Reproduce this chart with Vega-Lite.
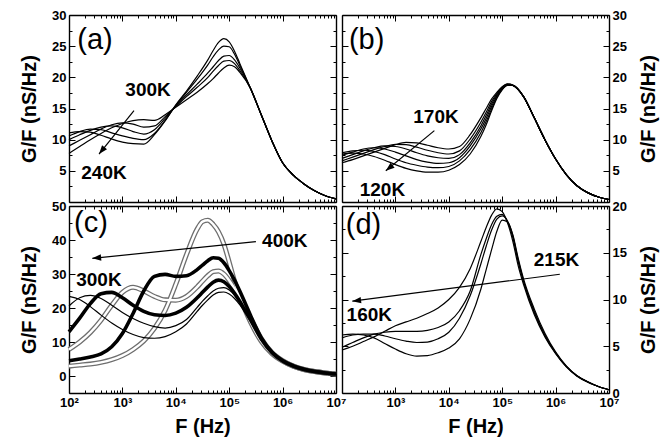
{
"$schema":"https://vega.github.io/schema/vega-lite/v6.json",
"autosize":{"type":"pad"},
"padding":{"left":19,"top":9,"right":5,"bottom":5},
"background":"white",
"config":{"view":{"stroke":null},"axis":{"domainColor":"black","domainWidth":1.4,"tickColor":"black","tickWidth":1,"labelFont":"Liberation Sans","labelFontWeight":"bold","labelFontSize":13,"labelColor":"black","titleFont":"Liberation Sans","titleFontWeight":"bold","titleFontSize":20,"titleColor":"black","grid":false,"labelFlush":false,"labelOverlap":false,"labelPadding":9,"titlePadding":12},"text":{"font":"Liberation Sans","color":"black"}},
"datasets":{
"lab":[
{"p":"a","k":"id","s":"(a)","f":143,"g":24.56},{"p":"a","k":"t","s":"300K","f":3020,"g":17.06},{"p":"a","k":"t","s":"240K","f":452,"g":3.7},
{"p":"b","k":"id","s":"(b)","f":135,"g":24.56},{"p":"b","k":"t","s":"170K","f":5754,"g":12.7},{"p":"b","k":"t","s":"120K","f":571,"g":1.0},
{"p":"c","k":"id","s":"(c)","f":124,"g":42.3},{"p":"c","k":"t","s":"400K","f":1100000,"g":37.85},{"p":"c","k":"t","s":"300K","f":363,"g":26.4},
{"p":"d","k":"id","s":"(d)","f":117.5,"g":17.0},{"p":"d","k":"t","s":"215K","f":1040000,"g":13.6},{"p":"d","k":"t","s":"160K","f":324,"g":7.67}],
"arr":[
{"p":"a","f":1648,"g":14.65,"f2":365,"g2":7.7},
{"p":"b","f":5370,"g":11.45,"f2":661,"g2":5.0},
{"p":"c","f":316200,"g":39.5,"f2":273.5,"g2":34.6},
{"p":"d","f":1200000,"g":12.7,"f2":156,"g2":9.82}],
"a":[
{"t":"240K","f":100,"g":11.1},{"t":"240K","f":158.5,"g":11.3},{"t":"240K","f":251.2,"g":11.2},{"t":"240K","f":398.1,"g":10.7},{"t":"240K","f":631,"g":10.1},{"t":"240K","f":1000,"g":9.6},{"t":"240K","f":1585,"g":9.35},{"t":"240K","f":2512,"g":9.3},{"t":"240K","f":3981,"g":10.8},{"t":"240K","f":6310,"g":13.0},{"t":"240K","f":10000,"g":15.6},{"t":"240K","f":15850,"g":17.8},{"t":"240K","f":25120,"g":20.2},{"t":"240K","f":39810,"g":22.8},{"t":"240K","f":50120,"g":24.3},{"t":"240K","f":63100,"g":25.6},{"t":"240K","f":79430,"g":26.2},{"t":"240K","f":100000,"g":25.7},{"t":"240K","f":125900,"g":24.2},{"t":"240K","f":158500,"g":22.2},{"t":"240K","f":251200,"g":18.2},{"t":"240K","f":398100,"g":14.0},{"t":"240K","f":631000,"g":9.8},{"t":"240K","f":1000000,"g":6.3},{"t":"240K","f":1585000,"g":4.3},{"t":"240K","f":2512000,"g":2.9},{"t":"240K","f":3981000,"g":1.8},{"t":"240K","f":6310000,"g":1.0},{"t":"240K","f":10000000,"g":0.5},
{"t":"255K","f":100,"g":10.6},{"t":"255K","f":158.5,"g":11.3},{"t":"255K","f":251.2,"g":11.7},{"t":"255K","f":398.1,"g":11.6},{"t":"255K","f":631,"g":11.1},{"t":"255K","f":1000,"g":10.6},{"t":"255K","f":1585,"g":10.2},{"t":"255K","f":2512,"g":10.0},{"t":"255K","f":3981,"g":11.0},{"t":"255K","f":6310,"g":13.1},{"t":"255K","f":10000,"g":15.5},{"t":"255K","f":15850,"g":17.6},{"t":"255K","f":25120,"g":19.7},{"t":"255K","f":39810,"g":22.0},{"t":"255K","f":50120,"g":23.3},{"t":"255K","f":63100,"g":24.4},{"t":"255K","f":79430,"g":25.0},{"t":"255K","f":100000,"g":24.9},{"t":"255K","f":125900,"g":23.7},{"t":"255K","f":158500,"g":21.9},{"t":"255K","f":251200,"g":18.2},{"t":"255K","f":398100,"g":14.0},{"t":"255K","f":631000,"g":9.8},{"t":"255K","f":1000000,"g":6.3},{"t":"255K","f":1585000,"g":4.3},{"t":"255K","f":2512000,"g":2.9},{"t":"255K","f":3981000,"g":1.8},{"t":"255K","f":6310000,"g":1.0},{"t":"255K","f":10000000,"g":0.5},
{"t":"270K","f":100,"g":10.0},{"t":"270K","f":158.5,"g":10.8},{"t":"270K","f":251.2,"g":11.5},{"t":"270K","f":398.1,"g":12.0},{"t":"270K","f":631,"g":12.2},{"t":"270K","f":1000,"g":11.9},{"t":"270K","f":1585,"g":11.3},{"t":"270K","f":2512,"g":10.9},{"t":"270K","f":3981,"g":11.6},{"t":"270K","f":6310,"g":13.4},{"t":"270K","f":10000,"g":15.4},{"t":"270K","f":15850,"g":17.2},{"t":"270K","f":25120,"g":18.9},{"t":"270K","f":39810,"g":20.7},{"t":"270K","f":50120,"g":21.7},{"t":"270K","f":63100,"g":22.7},{"t":"270K","f":79430,"g":23.4},{"t":"270K","f":100000,"g":23.5},{"t":"270K","f":125900,"g":22.8},{"t":"270K","f":158500,"g":21.5},{"t":"270K","f":251200,"g":18.2},{"t":"270K","f":398100,"g":14.0},{"t":"270K","f":631000,"g":9.8},{"t":"270K","f":1000000,"g":6.3},{"t":"270K","f":1585000,"g":4.3},{"t":"270K","f":2512000,"g":2.9},{"t":"270K","f":3981000,"g":1.8},{"t":"270K","f":6310000,"g":1.0},{"t":"270K","f":10000000,"g":0.5},
{"t":"285K","f":100,"g":9.0},{"t":"285K","f":158.5,"g":9.9},{"t":"285K","f":251.2,"g":10.8},{"t":"285K","f":398.1,"g":11.7},{"t":"285K","f":631,"g":12.4},{"t":"285K","f":1000,"g":12.7},{"t":"285K","f":1585,"g":12.5},{"t":"285K","f":2512,"g":12.0},{"t":"285K","f":3981,"g":12.2},{"t":"285K","f":6310,"g":13.7},{"t":"285K","f":10000,"g":15.3},{"t":"285K","f":15850,"g":16.9},{"t":"285K","f":25120,"g":18.4},{"t":"285K","f":39810,"g":20.0},{"t":"285K","f":50120,"g":21.0},{"t":"285K","f":63100,"g":21.9},{"t":"285K","f":79430,"g":22.6},{"t":"285K","f":100000,"g":22.7},{"t":"285K","f":125900,"g":22.2},{"t":"285K","f":158500,"g":21.1},{"t":"285K","f":251200,"g":18.2},{"t":"285K","f":398100,"g":14.0},{"t":"285K","f":631000,"g":9.8},{"t":"285K","f":1000000,"g":6.3},{"t":"285K","f":1585000,"g":4.3},{"t":"285K","f":2512000,"g":2.9},{"t":"285K","f":3981000,"g":1.8},{"t":"285K","f":6310000,"g":1.0},{"t":"285K","f":10000000,"g":0.5},
{"t":"300K","f":100,"g":7.8},{"t":"300K","f":158.5,"g":8.9},{"t":"300K","f":251.2,"g":10.0},{"t":"300K","f":398.1,"g":11.0},{"t":"300K","f":631,"g":11.9},{"t":"300K","f":1000,"g":12.6},{"t":"300K","f":1585,"g":13.05},{"t":"300K","f":2512,"g":13.2},{"t":"300K","f":3981,"g":13.1},{"t":"300K","f":6310,"g":14.0},{"t":"300K","f":10000,"g":15.2},{"t":"300K","f":15850,"g":16.4},{"t":"300K","f":25120,"g":17.6},{"t":"300K","f":39810,"g":19.0},{"t":"300K","f":50120,"g":19.8},{"t":"300K","f":63100,"g":20.7},{"t":"300K","f":79430,"g":21.5},{"t":"300K","f":100000,"g":21.95},{"t":"300K","f":125900,"g":21.7},{"t":"300K","f":158500,"g":20.8},{"t":"300K","f":251200,"g":18.2},{"t":"300K","f":398100,"g":14.0},{"t":"300K","f":631000,"g":9.8},{"t":"300K","f":1000000,"g":6.3},{"t":"300K","f":1585000,"g":4.3},{"t":"300K","f":2512000,"g":2.9},{"t":"300K","f":3981000,"g":1.8},{"t":"300K","f":6310000,"g":1.0},{"t":"300K","f":10000000,"g":0.5}],
"b":[
{"t":"120K","f":100,"g":7.7},{"t":"120K","f":158.5,"g":7.85},{"t":"120K","f":251.2,"g":7.7},{"t":"120K","f":398.1,"g":7.3},{"t":"120K","f":631,"g":6.7},{"t":"120K","f":1000,"g":6.0},{"t":"120K","f":1585,"g":5.4},{"t":"120K","f":2512,"g":5.0},{"t":"120K","f":3981,"g":4.8},{"t":"120K","f":6310,"g":4.8},{"t":"120K","f":10000,"g":5.1},{"t":"120K","f":15850,"g":6.0},{"t":"120K","f":25120,"g":7.7},{"t":"120K","f":39810,"g":10.5},{"t":"120K","f":50120,"g":12.4},{"t":"120K","f":63100,"g":14.6},{"t":"120K","f":79430,"g":16.6},{"t":"120K","f":100000,"g":18.0},{"t":"120K","f":125900,"g":18.7},{"t":"120K","f":158500,"g":18.7},{"t":"120K","f":251200,"g":16.9},{"t":"120K","f":398100,"g":13.5},{"t":"120K","f":631000,"g":10.0},{"t":"120K","f":1000000,"g":6.9},{"t":"120K","f":1585000,"g":4.4},{"t":"120K","f":2512000,"g":2.6},{"t":"120K","f":3981000,"g":1.5},{"t":"120K","f":6310000,"g":0.8},{"t":"120K","f":10000000,"g":0.4},
{"t":"130K","f":100,"g":7.9},{"t":"130K","f":158.5,"g":8.2},{"t":"130K","f":251.2,"g":8.3},{"t":"130K","f":398.1,"g":8.1},{"t":"130K","f":631,"g":7.6},{"t":"130K","f":1000,"g":6.9},{"t":"130K","f":1585,"g":6.3},{"t":"130K","f":2512,"g":5.9},{"t":"130K","f":3981,"g":5.6},{"t":"130K","f":6310,"g":5.5},{"t":"130K","f":10000,"g":5.7},{"t":"130K","f":15850,"g":6.6},{"t":"130K","f":25120,"g":8.4},{"t":"130K","f":39810,"g":11.1},{"t":"130K","f":50120,"g":12.9},{"t":"130K","f":63100,"g":14.9},{"t":"130K","f":79430,"g":16.8},{"t":"130K","f":100000,"g":18.1},{"t":"130K","f":125900,"g":18.75},{"t":"130K","f":158500,"g":18.7},{"t":"130K","f":251200,"g":16.9},{"t":"130K","f":398100,"g":13.5},{"t":"130K","f":631000,"g":10.0},{"t":"130K","f":1000000,"g":6.9},{"t":"130K","f":1585000,"g":4.4},{"t":"130K","f":2512000,"g":2.6},{"t":"130K","f":3981000,"g":1.5},{"t":"130K","f":6310000,"g":0.8},{"t":"130K","f":10000000,"g":0.4},
{"t":"140K","f":100,"g":7.5},{"t":"140K","f":158.5,"g":8.0},{"t":"140K","f":251.2,"g":8.5},{"t":"140K","f":398.1,"g":8.7},{"t":"140K","f":631,"g":8.5},{"t":"140K","f":1000,"g":8.0},{"t":"140K","f":1585,"g":7.4},{"t":"140K","f":2512,"g":6.8},{"t":"140K","f":3981,"g":6.4},{"t":"140K","f":6310,"g":6.2},{"t":"140K","f":10000,"g":6.3},{"t":"140K","f":15850,"g":7.1},{"t":"140K","f":25120,"g":9.0},{"t":"140K","f":39810,"g":11.7},{"t":"140K","f":50120,"g":13.4},{"t":"140K","f":63100,"g":15.3},{"t":"140K","f":79430,"g":17.0},{"t":"140K","f":100000,"g":18.2},{"t":"140K","f":125900,"g":18.8},{"t":"140K","f":158500,"g":18.7},{"t":"140K","f":251200,"g":16.9},{"t":"140K","f":398100,"g":13.5},{"t":"140K","f":631000,"g":10.0},{"t":"140K","f":1000000,"g":6.9},{"t":"140K","f":1585000,"g":4.4},{"t":"140K","f":2512000,"g":2.6},{"t":"140K","f":3981000,"g":1.5},{"t":"140K","f":6310000,"g":0.8},{"t":"140K","f":10000000,"g":0.4},
{"t":"150K","f":100,"g":7.0},{"t":"150K","f":158.5,"g":7.6},{"t":"150K","f":251.2,"g":8.2},{"t":"150K","f":398.1,"g":8.7},{"t":"150K","f":631,"g":9.0},{"t":"150K","f":1000,"g":8.9},{"t":"150K","f":1585,"g":8.5},{"t":"150K","f":2512,"g":7.9},{"t":"150K","f":3981,"g":7.4},{"t":"150K","f":6310,"g":7.1},{"t":"150K","f":10000,"g":7.0},{"t":"150K","f":15850,"g":7.6},{"t":"150K","f":25120,"g":9.5},{"t":"150K","f":39810,"g":12.2},{"t":"150K","f":50120,"g":13.9},{"t":"150K","f":63100,"g":15.7},{"t":"150K","f":79430,"g":17.2},{"t":"150K","f":100000,"g":18.3},{"t":"150K","f":125900,"g":18.85},{"t":"150K","f":158500,"g":18.7},{"t":"150K","f":251200,"g":16.9},{"t":"150K","f":398100,"g":13.5},{"t":"150K","f":631000,"g":10.0},{"t":"150K","f":1000000,"g":6.9},{"t":"150K","f":1585000,"g":4.4},{"t":"150K","f":2512000,"g":2.6},{"t":"150K","f":3981000,"g":1.5},{"t":"150K","f":6310000,"g":0.8},{"t":"150K","f":10000000,"g":0.4},
{"t":"160K","f":100,"g":6.6},{"t":"160K","f":158.5,"g":7.2},{"t":"160K","f":251.2,"g":7.8},{"t":"160K","f":398.1,"g":8.4},{"t":"160K","f":631,"g":8.9},{"t":"160K","f":1000,"g":9.25},{"t":"160K","f":1585,"g":9.2},{"t":"160K","f":2512,"g":8.8},{"t":"160K","f":3981,"g":8.3},{"t":"160K","f":6310,"g":7.9},{"t":"160K","f":10000,"g":7.7},{"t":"160K","f":15850,"g":8.2},{"t":"160K","f":25120,"g":10.1},{"t":"160K","f":39810,"g":12.8},{"t":"160K","f":50120,"g":14.4},{"t":"160K","f":63100,"g":16.1},{"t":"160K","f":79430,"g":17.4},{"t":"160K","f":100000,"g":18.4},{"t":"160K","f":125900,"g":18.9},{"t":"160K","f":158500,"g":18.7},{"t":"160K","f":251200,"g":16.9},{"t":"160K","f":398100,"g":13.5},{"t":"160K","f":631000,"g":10.0},{"t":"160K","f":1000000,"g":6.9},{"t":"160K","f":1585000,"g":4.4},{"t":"160K","f":2512000,"g":2.6},{"t":"160K","f":3981000,"g":1.5},{"t":"160K","f":6310000,"g":0.8},{"t":"160K","f":10000000,"g":0.4},
{"t":"170K","f":100,"g":6.3},{"t":"170K","f":158.5,"g":6.8},{"t":"170K","f":251.2,"g":7.4},{"t":"170K","f":398.1,"g":8.0},{"t":"170K","f":631,"g":8.6},{"t":"170K","f":1000,"g":9.2},{"t":"170K","f":1585,"g":9.55},{"t":"170K","f":2512,"g":9.5},{"t":"170K","f":3981,"g":9.1},{"t":"170K","f":6310,"g":8.7},{"t":"170K","f":10000,"g":8.5},{"t":"170K","f":15850,"g":8.9},{"t":"170K","f":25120,"g":10.8},{"t":"170K","f":39810,"g":13.5},{"t":"170K","f":50120,"g":15.0},{"t":"170K","f":63100,"g":16.5},{"t":"170K","f":79430,"g":17.6},{"t":"170K","f":100000,"g":18.5},{"t":"170K","f":125900,"g":18.95},{"t":"170K","f":158500,"g":18.75},{"t":"170K","f":251200,"g":16.9},{"t":"170K","f":398100,"g":13.5},{"t":"170K","f":631000,"g":10.0},{"t":"170K","f":1000000,"g":6.9},{"t":"170K","f":1585000,"g":4.4},{"t":"170K","f":2512000,"g":2.6},{"t":"170K","f":3981000,"g":1.5},{"t":"170K","f":6310000,"g":0.8},{"t":"170K","f":10000000,"g":0.4}],
"c":[
{"t":"300K","f":100,"g":23.4},{"t":"300K","f":158.5,"g":22.5},{"t":"300K","f":251.2,"g":20.4},{"t":"300K","f":398.1,"g":17.9},{"t":"300K","f":631,"g":15.6},{"t":"300K","f":1000,"g":13.7},{"t":"300K","f":1585,"g":12.2},{"t":"300K","f":2512,"g":11.3},{"t":"300K","f":3981,"g":11.1},{"t":"300K","f":6310,"g":11.6},{"t":"300K","f":10000,"g":13.0},{"t":"300K","f":15850,"g":15.3},{"t":"300K","f":25120,"g":19.0},{"t":"300K","f":31620,"g":20.8},{"t":"300K","f":39810,"g":22.4},{"t":"300K","f":50120,"g":23.8},{"t":"300K","f":63100,"g":24.6},{"t":"300K","f":79430,"g":24.7},{"t":"300K","f":100000,"g":24.1},{"t":"300K","f":125900,"g":22.8},{"t":"300K","f":158500,"g":20.9},{"t":"300K","f":199500,"g":18.6},{"t":"300K","f":251200,"g":16.0},{"t":"300K","f":398100,"g":10.7},{"t":"300K","f":631000,"g":6.8},{"t":"300K","f":1000000,"g":4.4},{"t":"300K","f":1585000,"g":2.9},{"t":"300K","f":2512000,"g":1.9},{"t":"300K","f":3981000,"g":1.3},{"t":"300K","f":6310000,"g":0.9},{"t":"300K","f":10000000,"g":0.6},
{"t":"320K","f":100,"g":20.6},{"t":"320K","f":158.5,"g":23.0},{"t":"320K","f":251.2,"g":23.7},{"t":"320K","f":398.1,"g":22.8},{"t":"320K","f":631,"g":20.8},{"t":"320K","f":1000,"g":18.7},{"t":"320K","f":1585,"g":16.9},{"t":"320K","f":2512,"g":15.5},{"t":"320K","f":3981,"g":14.5},{"t":"320K","f":6310,"g":14.1},{"t":"320K","f":10000,"g":14.8},{"t":"320K","f":15850,"g":16.6},{"t":"320K","f":25120,"g":20.2},{"t":"320K","f":31620,"g":22.0},{"t":"320K","f":39810,"g":23.6},{"t":"320K","f":50120,"g":25.0},{"t":"320K","f":63100,"g":25.8},{"t":"320K","f":79430,"g":26.0},{"t":"320K","f":100000,"g":25.3},{"t":"320K","f":125900,"g":23.8},{"t":"320K","f":158500,"g":21.6},{"t":"320K","f":199500,"g":19.0},{"t":"320K","f":251200,"g":16.3},{"t":"320K","f":398100,"g":10.8},{"t":"320K","f":631000,"g":6.9},{"t":"320K","f":1000000,"g":4.5},{"t":"320K","f":1585000,"g":2.9},{"t":"320K","f":2512000,"g":1.9},{"t":"320K","f":3981000,"g":1.3},{"t":"320K","f":6310000,"g":0.9},{"t":"320K","f":10000000,"g":0.6},
{"t":"340K","f":100,"g":13.0},{"t":"340K","f":158.5,"g":17.0},{"t":"340K","f":251.2,"g":21.3},{"t":"340K","f":398.1,"g":24.2},{"t":"340K","f":631,"g":24.6},{"t":"340K","f":1000,"g":23.0},{"t":"340K","f":1585,"g":20.8},{"t":"340K","f":2512,"g":19.0},{"t":"340K","f":3981,"g":18.0},{"t":"340K","f":6310,"g":17.8},{"t":"340K","f":10000,"g":18.5},{"t":"340K","f":15850,"g":20.2},{"t":"340K","f":25120,"g":23.0},{"t":"340K","f":31620,"g":24.6},{"t":"340K","f":39810,"g":26.2},{"t":"340K","f":50120,"g":27.6},{"t":"340K","f":63100,"g":28.2},{"t":"340K","f":79430,"g":27.7},{"t":"340K","f":100000,"g":26.3},{"t":"340K","f":125900,"g":24.3},{"t":"340K","f":158500,"g":21.9},{"t":"340K","f":199500,"g":19.2},{"t":"340K","f":251200,"g":16.5},{"t":"340K","f":398100,"g":10.9},{"t":"340K","f":631000,"g":6.9},{"t":"340K","f":1000000,"g":4.5},{"t":"340K","f":1585000,"g":2.9},{"t":"340K","f":2512000,"g":1.9},{"t":"340K","f":3981000,"g":1.3},{"t":"340K","f":6310000,"g":0.9},{"t":"340K","f":10000000,"g":0.6},
{"t":"360K","f":100,"g":7.8},{"t":"360K","f":158.5,"g":10.0},{"t":"360K","f":251.2,"g":12.8},{"t":"360K","f":398.1,"g":16.4},{"t":"360K","f":631,"g":20.8},{"t":"360K","f":1000,"g":24.6},{"t":"360K","f":1585,"g":26.1},{"t":"360K","f":2512,"g":25.0},{"t":"360K","f":3981,"g":23.4},{"t":"360K","f":6310,"g":22.4},{"t":"360K","f":10000,"g":22.3},{"t":"360K","f":15850,"g":23.4},{"t":"360K","f":25120,"g":26.2},{"t":"360K","f":31620,"g":27.9},{"t":"360K","f":39810,"g":29.5},{"t":"360K","f":50120,"g":30.7},{"t":"360K","f":63100,"g":30.9},{"t":"360K","f":79430,"g":30.0},{"t":"360K","f":100000,"g":28.1},{"t":"360K","f":125900,"g":25.7},{"t":"360K","f":158500,"g":22.9},{"t":"360K","f":199500,"g":19.8},{"t":"360K","f":251200,"g":16.9},{"t":"360K","f":398100,"g":11.0},{"t":"360K","f":631000,"g":6.9},{"t":"360K","f":1000000,"g":4.5},{"t":"360K","f":1585000,"g":2.9},{"t":"360K","f":2512000,"g":1.9},{"t":"360K","f":3981000,"g":1.3},{"t":"360K","f":6310000,"g":0.9},{"t":"360K","f":10000000,"g":0.6},
{"t":"380K","f":100,"g":4.5},{"t":"380K","f":158.5,"g":5.0},{"t":"380K","f":251.2,"g":5.6},{"t":"380K","f":398.1,"g":6.5},{"t":"380K","f":631,"g":8.6},{"t":"380K","f":1000,"g":12.5},{"t":"380K","f":1585,"g":18.4},{"t":"380K","f":2512,"g":25.0},{"t":"380K","f":3981,"g":29.3},{"t":"380K","f":6310,"g":29.9},{"t":"380K","f":10000,"g":29.3},{"t":"380K","f":15850,"g":29.5},{"t":"380K","f":25120,"g":31.3},{"t":"380K","f":31620,"g":32.6},{"t":"380K","f":39810,"g":33.9},{"t":"380K","f":50120,"g":34.8},{"t":"380K","f":63100,"g":34.6},{"t":"380K","f":79430,"g":33.3},{"t":"380K","f":100000,"g":31.0},{"t":"380K","f":125900,"g":28.2},{"t":"380K","f":158500,"g":24.9},{"t":"380K","f":199500,"g":21.4},{"t":"380K","f":251200,"g":17.8},{"t":"380K","f":398100,"g":11.3},{"t":"380K","f":631000,"g":7.0},{"t":"380K","f":1000000,"g":4.5},{"t":"380K","f":1585000,"g":3.0},{"t":"380K","f":2512000,"g":2.0},{"t":"380K","f":3981000,"g":1.3},{"t":"380K","f":6310000,"g":0.9},{"t":"380K","f":10000000,"g":0.6},
{"t":"400K","f":100,"g":2.9},{"t":"400K","f":158.5,"g":3.2},{"t":"400K","f":251.2,"g":3.5},{"t":"400K","f":398.1,"g":4.0},{"t":"400K","f":631,"g":4.8},{"t":"400K","f":1000,"g":6.0},{"t":"400K","f":1585,"g":7.8},{"t":"400K","f":2512,"g":10.3},{"t":"400K","f":3981,"g":14.0},{"t":"400K","f":6310,"g":19.3},{"t":"400K","f":10000,"g":27.0},{"t":"400K","f":15850,"g":35.7},{"t":"400K","f":25120,"g":43.2},{"t":"400K","f":31620,"g":45.4},{"t":"400K","f":39810,"g":45.8},{"t":"400K","f":50120,"g":44.6},{"t":"400K","f":63100,"g":42.4},{"t":"400K","f":79430,"g":38.8},{"t":"400K","f":100000,"g":33.5},{"t":"400K","f":125900,"g":27.9},{"t":"400K","f":158500,"g":23.2},{"t":"400K","f":199500,"g":19.3},{"t":"400K","f":251200,"g":15.8},{"t":"400K","f":398100,"g":10.2},{"t":"400K","f":631000,"g":6.6},{"t":"400K","f":1000000,"g":4.4},{"t":"400K","f":1585000,"g":2.9},{"t":"400K","f":2512000,"g":1.9},{"t":"400K","f":3981000,"g":1.3},{"t":"400K","f":6310000,"g":0.9},{"t":"400K","f":10000000,"g":0.6}],
"d":[
{"t":"160K","f":100,"g":6.2},{"t":"160K","f":158.5,"g":6.3},{"t":"160K","f":251.2,"g":6.2},{"t":"160K","f":398.1,"g":5.9},{"t":"160K","f":631,"g":5.3},{"t":"160K","f":1000,"g":4.7},{"t":"160K","f":1585,"g":4.2},{"t":"160K","f":2512,"g":3.95},{"t":"160K","f":3981,"g":4.0},{"t":"160K","f":6310,"g":4.3},{"t":"160K","f":10000,"g":4.8},{"t":"160K","f":15850,"g":5.8},{"t":"160K","f":25120,"g":7.9},{"t":"160K","f":39810,"g":11.1},{"t":"160K","f":50120,"g":13.2},{"t":"160K","f":63100,"g":15.3},{"t":"160K","f":79430,"g":17.3},{"t":"160K","f":100000,"g":18.5},{"t":"160K","f":125900,"g":18.3},{"t":"160K","f":158500,"g":16.9},{"t":"160K","f":199500,"g":14.4},{"t":"160K","f":251200,"g":12.2},{"t":"160K","f":398100,"g":9.0},{"t":"160K","f":631000,"g":6.4},{"t":"160K","f":1000000,"g":4.4},{"t":"160K","f":1585000,"g":2.9},{"t":"160K","f":2512000,"g":1.85},{"t":"160K","f":3981000,"g":1.2},{"t":"160K","f":6310000,"g":0.7},{"t":"160K","f":10000000,"g":0.35},
{"t":"180K","f":100,"g":5.9},{"t":"180K","f":158.5,"g":6.2},{"t":"180K","f":251.2,"g":6.3},{"t":"180K","f":398.1,"g":6.3},{"t":"180K","f":631,"g":6.1},{"t":"180K","f":1000,"g":5.8},{"t":"180K","f":1585,"g":5.55},{"t":"180K","f":2512,"g":5.4},{"t":"180K","f":3981,"g":5.45},{"t":"180K","f":6310,"g":5.8},{"t":"180K","f":10000,"g":6.5},{"t":"180K","f":15850,"g":8.0},{"t":"180K","f":25120,"g":10.4},{"t":"180K","f":39810,"g":13.8},{"t":"180K","f":50120,"g":15.7},{"t":"180K","f":63100,"g":17.4},{"t":"180K","f":79430,"g":18.6},{"t":"180K","f":100000,"g":18.95},{"t":"180K","f":125900,"g":18.4},{"t":"180K","f":158500,"g":16.8},{"t":"180K","f":199500,"g":14.2},{"t":"180K","f":251200,"g":12.0},{"t":"180K","f":398100,"g":8.8},{"t":"180K","f":631000,"g":6.2},{"t":"180K","f":1000000,"g":4.3},{"t":"180K","f":1585000,"g":2.85},{"t":"180K","f":2512000,"g":1.85},{"t":"180K","f":3981000,"g":1.2},{"t":"180K","f":6310000,"g":0.7},{"t":"180K","f":10000000,"g":0.35},
{"t":"200K","f":100,"g":4.9},{"t":"200K","f":158.5,"g":5.4},{"t":"200K","f":251.2,"g":5.9},{"t":"200K","f":398.1,"g":6.3},{"t":"200K","f":631,"g":6.5},{"t":"200K","f":1000,"g":6.6},{"t":"200K","f":1585,"g":6.6},{"t":"200K","f":2512,"g":6.6},{"t":"200K","f":3981,"g":6.7},{"t":"200K","f":6310,"g":7.0},{"t":"200K","f":10000,"g":7.6},{"t":"200K","f":15850,"g":8.8},{"t":"200K","f":25120,"g":10.9},{"t":"200K","f":39810,"g":14.8},{"t":"200K","f":50120,"g":16.5},{"t":"200K","f":63100,"g":18.0},{"t":"200K","f":79430,"g":18.9},{"t":"200K","f":100000,"g":19.1},{"t":"200K","f":125900,"g":18.3},{"t":"200K","f":158500,"g":16.6},{"t":"200K","f":199500,"g":14.0},{"t":"200K","f":251200,"g":11.9},{"t":"200K","f":398100,"g":8.6},{"t":"200K","f":631000,"g":6.1},{"t":"200K","f":1000000,"g":4.3},{"t":"200K","f":1585000,"g":2.85},{"t":"200K","f":2512000,"g":1.85},{"t":"200K","f":3981000,"g":1.2},{"t":"200K","f":6310000,"g":0.7},{"t":"200K","f":10000000,"g":0.35},
{"t":"215K","f":100,"g":4.6},{"t":"215K","f":158.5,"g":5.0},{"t":"215K","f":251.2,"g":5.5},{"t":"215K","f":398.1,"g":6.0},{"t":"215K","f":631,"g":6.6},{"t":"215K","f":1000,"g":7.2},{"t":"215K","f":1585,"g":7.6},{"t":"215K","f":2512,"g":8.0},{"t":"215K","f":3981,"g":8.5},{"t":"215K","f":6310,"g":9.1},{"t":"215K","f":10000,"g":10.0},{"t":"215K","f":15850,"g":11.3},{"t":"215K","f":25120,"g":13.3},{"t":"215K","f":39810,"g":16.2},{"t":"215K","f":50120,"g":17.7},{"t":"215K","f":63100,"g":19.0},{"t":"215K","f":79430,"g":19.7},{"t":"215K","f":100000,"g":19.4},{"t":"215K","f":125900,"g":18.2},{"t":"215K","f":158500,"g":16.2},{"t":"215K","f":199500,"g":13.6},{"t":"215K","f":251200,"g":11.6},{"t":"215K","f":398100,"g":8.4},{"t":"215K","f":631000,"g":6.0},{"t":"215K","f":1000000,"g":4.2},{"t":"215K","f":1585000,"g":2.8},{"t":"215K","f":2512000,"g":1.8},{"t":"215K","f":3981000,"g":1.15},{"t":"215K","f":6310000,"g":0.7},{"t":"215K","f":10000000,"g":0.35}]
},
"columns":2,
"spacing":{"row":4,"column":6},
"bounds":"flush",
"concat":[
{"width":267,"height":187,
 "layer":[
  {"data":{"name":"a"},"mark":{"type":"line","stroke":"black","strokeWidth":1.2,"interpolate":"monotone"},
   "encoding":{
    "x":{"field":"f","type":"quantitative","scale":{"type":"log","domain":[100,10000000]},"axis":{"orient":"bottom","values":[100,200,300,400,500,600,700,800,900,1000,2000,3000,4000,5000,6000,7000,8000,9000,10000,20000,30000,40000,50000,60000,70000,80000,90000,100000,200000,300000,400000,500000,600000,700000,800000,900000,1000000,2000000,3000000,4000000,5000000,6000000,7000000,8000000,9000000,10000000],"labels":false,"title":null,"tickSize":{"condition":{"test":"indexof([100,1000,10000,100000,1000000,10000000],datum.value)>=0","value":-6},"value":-3}}},
    "y":{"field":"g","type":"quantitative","scale":{"domain":[0,30]},"axis":{"orient":"left","values":[0,2.5,5,7.5,10,12.5,15,17.5,20,22.5,25,27.5,30],"labelExpr":"datum.value%5==0&&datum.value>0?datum.label:''","title":"G/F (nS/Hz)","tickSize":{"condition":{"test":"datum.value%5==0","value":-6},"value":-3}}},
    "detail":{"field":"t","type":"nominal"}}},
  {"data":{"name":"lab"},"transform":[{"filter":"datum.p=='a'&&datum.k=='id'"}],
   "mark":{"type":"text","align":"left","baseline":"alphabetic","fontSize":29},
   "encoding":{
    "x":{"field":"f","type":"quantitative","scale":{"type":"log","domain":[100,10000000]},"axis":{"orient":"top","values":[100,200,300,400,500,600,700,800,900,1000,2000,3000,4000,5000,6000,7000,8000,9000,10000,20000,30000,40000,50000,60000,70000,80000,90000,100000,200000,300000,400000,500000,600000,700000,800000,900000,1000000,2000000,3000000,4000000,5000000,6000000,7000000,8000000,9000000,10000000],"labels":false,"title":null,"tickSize":{"condition":{"test":"indexof([100,1000,10000,100000,1000000,10000000],datum.value)>=0","value":-6},"value":-3}}},
    "y":{"field":"g","type":"quantitative","scale":{"domain":[0,30]},"axis":{"orient":"right","values":[0,2.5,5,7.5,10,12.5,15,17.5,20,22.5,25,27.5,30],"labels":false,"title":null,"tickSize":{"condition":{"test":"datum.value%5==0","value":-6},"value":-3}}},
    "text":{"field":"s"}}},
  {"data":{"name":"lab"},"transform":[{"filter":"datum.p=='a'&&datum.k=='t'"}],
   "mark":{"type":"text","align":"center","baseline":"alphabetic","fontSize":19,"fontWeight":"bold"},
   "encoding":{"x":{"field":"f","type":"quantitative","axis":null},"y":{"field":"g","type":"quantitative","axis":null},"text":{"field":"s"}}},
  {"data":{"name":"arr"},"transform":[{"filter":"datum.p=='a'"}],
   "mark":{"type":"rule","strokeWidth":1.2,"color":"black"},
   "encoding":{"x":{"field":"f","type":"quantitative","axis":null},"y":{"field":"g","type":"quantitative","axis":null},"x2":{"field":"f2"},"y2":{"field":"g2"}}},
  {"data":{"name":"arr"},"transform":[{"filter":"datum.p=='a'"}],
   "mark":{"type":"point","shape":"M0,0L-0.8,2.2L0.8,2.2Z","filled":true,"color":"black","opacity":1,"size":64,"angle":218.9,"strokeWidth":0},
   "encoding":{"x":{"field":"f2","type":"quantitative","axis":null},"y":{"field":"g2","type":"quantitative","axis":null}}}
 ],
 "resolve":{"axis":{"x":"independent","y":"independent"}}},
{"width":267,"height":187,
 "layer":[
  {"data":{"name":"b"},"mark":{"type":"line","stroke":"black","strokeWidth":1.2,"interpolate":"monotone"},
   "encoding":{
    "x":{"field":"f","type":"quantitative","scale":{"type":"log","domain":[100,10000000]},"axis":{"orient":"bottom","values":[100,200,300,400,500,600,700,800,900,1000,2000,3000,4000,5000,6000,7000,8000,9000,10000,20000,30000,40000,50000,60000,70000,80000,90000,100000,200000,300000,400000,500000,600000,700000,800000,900000,1000000,2000000,3000000,4000000,5000000,6000000,7000000,8000000,9000000,10000000],"labels":false,"title":null,"tickSize":{"condition":{"test":"indexof([100,1000,10000,100000,1000000,10000000],datum.value)>=0","value":-6},"value":-3}}},
    "y":{"field":"g","type":"quantitative","scale":{"domain":[0,30]},"axis":{"orient":"right","values":[0,2.5,5,7.5,10,12.5,15,17.5,20,22.5,25,27.5,30],"labelExpr":"datum.value%5==0&&datum.value>0?datum.label:''","title":"G/F (nS/Hz)","titleAngle":270,"titleBaseline":"top","tickSize":{"condition":{"test":"datum.value%5==0","value":-6},"value":-3}}},
    "detail":{"field":"t","type":"nominal"}}},
  {"data":{"name":"lab"},"transform":[{"filter":"datum.p=='b'&&datum.k=='id'"}],
   "mark":{"type":"text","align":"left","baseline":"alphabetic","fontSize":29},
   "encoding":{
    "x":{"field":"f","type":"quantitative","scale":{"type":"log","domain":[100,10000000]},"axis":{"orient":"top","values":[100,200,300,400,500,600,700,800,900,1000,2000,3000,4000,5000,6000,7000,8000,9000,10000,20000,30000,40000,50000,60000,70000,80000,90000,100000,200000,300000,400000,500000,600000,700000,800000,900000,1000000,2000000,3000000,4000000,5000000,6000000,7000000,8000000,9000000,10000000],"labels":false,"title":null,"tickSize":{"condition":{"test":"indexof([100,1000,10000,100000,1000000,10000000],datum.value)>=0","value":-6},"value":-3}}},
    "y":{"field":"g","type":"quantitative","scale":{"domain":[0,30]},"axis":{"orient":"left","values":[0,2.5,5,7.5,10,12.5,15,17.5,20,22.5,25,27.5,30],"labels":false,"title":null,"tickSize":{"condition":{"test":"datum.value%5==0","value":-6},"value":-3}}},
    "text":{"field":"s"}}},
  {"data":{"name":"lab"},"transform":[{"filter":"datum.p=='b'&&datum.k=='t'"}],
   "mark":{"type":"text","align":"center","baseline":"alphabetic","fontSize":19,"fontWeight":"bold"},
   "encoding":{"x":{"field":"f","type":"quantitative","axis":null},"y":{"field":"g","type":"quantitative","axis":null},"text":{"field":"s"}}},
  {"data":{"name":"arr"},"transform":[{"filter":"datum.p=='b'"}],
   "mark":{"type":"rule","strokeWidth":1.2,"color":"black"},
   "encoding":{"x":{"field":"f","type":"quantitative","axis":null},"y":{"field":"g","type":"quantitative","axis":null},"x2":{"field":"f2"},"y2":{"field":"g2"}}},
  {"data":{"name":"arr"},"transform":[{"filter":"datum.p=='b'"}],
   "mark":{"type":"point","shape":"M0,0L-0.8,2.2L0.8,2.2Z","filled":true,"color":"black","opacity":1,"size":64,"angle":230.4,"strokeWidth":0},
   "encoding":{"x":{"field":"f2","type":"quantitative","axis":null},"y":{"field":"g2","type":"quantitative","axis":null}}}
 ],
 "resolve":{"axis":{"x":"independent","y":"independent"}}},
{"width":267,"height":187,
 "layer":[
  {"data":{"name":"c"},"transform":[{"filter":"datum.t=='360K'||datum.t=='400K'"}],"mark":{"type":"line","stroke":"#6e6e6e","strokeWidth":5,"interpolate":"monotone"},
   "encoding":{
    "x":{"field":"f","type":"quantitative","scale":{"type":"log","domain":[100,10000000]},"axis":{"orient":"bottom","values":[100,200,300,400,500,600,700,800,900,1000,2000,3000,4000,5000,6000,7000,8000,9000,10000,20000,30000,40000,50000,60000,70000,80000,90000,100000,200000,300000,400000,500000,600000,700000,800000,900000,1000000,2000000,3000000,4000000,5000000,6000000,7000000,8000000,9000000,10000000],"labelExpr":"indexof([100,1000,10000,100000,1000000,10000000],datum.value)>=0?'10'+['²','³','⁴','⁵','⁶','⁷'][indexof([100,1000,10000,100000,1000000,10000000],datum.value)]:''","title":"F (Hz)","titlePadding":4,"tickSize":{"condition":{"test":"indexof([100,1000,10000,100000,1000000,10000000],datum.value)>=0","value":-6},"value":-3}}},
    "y":{"field":"g","type":"quantitative","scale":{"domain":[-5,50]},"axis":{"orient":"left","values":[-5,0,5,10,15,20,25,30,35,40,45,50],"labelExpr":"datum.value%10==0?datum.label:''","title":"G/F (nS/Hz)","tickSize":{"condition":{"test":"datum.value%10==0","value":-6},"value":-3}}},
    "detail":{"field":"t","type":"nominal"}}},
  {"data":{"name":"c"},"transform":[{"filter":"datum.t=='360K'||datum.t=='400K'"}],"mark":{"type":"line","stroke":"white","strokeWidth":2.4,"interpolate":"monotone"},
   "encoding":{"x":{"field":"f","type":"quantitative","axis":null},"y":{"field":"g","type":"quantitative","axis":null},"detail":{"field":"t","type":"nominal"}}},
  {"data":{"name":"c"},"transform":[{"filter":"datum.t=='340K'||datum.t=='380K'"}],"mark":{"type":"line","stroke":"black","strokeWidth":3.6,"interpolate":"monotone"},
   "encoding":{"x":{"field":"f","type":"quantitative","axis":null},"y":{"field":"g","type":"quantitative","axis":null},"detail":{"field":"t","type":"nominal"}}},
  {"data":{"name":"c"},"transform":[{"filter":"datum.t=='300K'||datum.t=='320K'"}],"mark":{"type":"line","stroke":"black","strokeWidth":1.2,"interpolate":"monotone"},
   "encoding":{"x":{"field":"f","type":"quantitative","axis":null},"y":{"field":"g","type":"quantitative","axis":null},"detail":{"field":"t","type":"nominal"}}},
  {"data":{"name":"lab"},"transform":[{"filter":"datum.p=='c'&&datum.k=='id'"}],
   "mark":{"type":"text","align":"left","baseline":"alphabetic","fontSize":29},
   "encoding":{
    "x":{"field":"f","type":"quantitative","scale":{"type":"log","domain":[100,10000000]},"axis":{"orient":"top","values":[100,200,300,400,500,600,700,800,900,1000,2000,3000,4000,5000,6000,7000,8000,9000,10000,20000,30000,40000,50000,60000,70000,80000,90000,100000,200000,300000,400000,500000,600000,700000,800000,900000,1000000,2000000,3000000,4000000,5000000,6000000,7000000,8000000,9000000,10000000],"labels":false,"title":null,"tickSize":{"condition":{"test":"indexof([100,1000,10000,100000,1000000,10000000],datum.value)>=0","value":-6},"value":-3}}},
    "y":{"field":"g","type":"quantitative","scale":{"domain":[-5,50]},"axis":{"orient":"right","values":[-5,0,5,10,15,20,25,30,35,40,45,50],"labels":false,"title":null,"tickSize":{"condition":{"test":"datum.value%10==0","value":-6},"value":-3}}},
    "text":{"field":"s"}}},
  {"data":{"name":"lab"},"transform":[{"filter":"datum.p=='c'&&datum.k=='t'"}],
   "mark":{"type":"text","align":"center","baseline":"alphabetic","fontSize":19,"fontWeight":"bold"},
   "encoding":{"x":{"field":"f","type":"quantitative","axis":null},"y":{"field":"g","type":"quantitative","axis":null},"text":{"field":"s"}}},
  {"data":{"name":"arr"},"transform":[{"filter":"datum.p=='c'"}],
   "mark":{"type":"rule","strokeWidth":1.2,"color":"black"},
   "encoding":{"x":{"field":"f","type":"quantitative","axis":null},"y":{"field":"g","type":"quantitative","axis":null},"x2":{"field":"f2"},"y2":{"field":"g2"}}},
  {"data":{"name":"arr"},"transform":[{"filter":"datum.p=='c'"}],
   "mark":{"type":"point","shape":"M0,0L-0.8,2.2L0.8,2.2Z","filled":true,"color":"black","opacity":1,"size":64,"angle":264.2,"strokeWidth":0},
   "encoding":{"x":{"field":"f2","type":"quantitative","axis":null},"y":{"field":"g2","type":"quantitative","axis":null}}}
 ],
 "resolve":{"axis":{"x":"independent","y":"independent"}}},
{"width":267,"height":187,
 "layer":[
  {"data":{"name":"d"},"mark":{"type":"line","stroke":"black","strokeWidth":1.2,"interpolate":"monotone"},
   "encoding":{
    "x":{"field":"f","type":"quantitative","scale":{"type":"log","domain":[100,10000000]},"axis":{"orient":"bottom","values":[100,200,300,400,500,600,700,800,900,1000,2000,3000,4000,5000,6000,7000,8000,9000,10000,20000,30000,40000,50000,60000,70000,80000,90000,100000,200000,300000,400000,500000,600000,700000,800000,900000,1000000,2000000,3000000,4000000,5000000,6000000,7000000,8000000,9000000,10000000],"labelExpr":"indexof([100,1000,10000,100000,1000000,10000000],datum.value)>=1?'10'+['²','³','⁴','⁵','⁶','⁷'][indexof([100,1000,10000,100000,1000000,10000000],datum.value)]:''","title":"F (Hz)","titlePadding":4,"tickSize":{"condition":{"test":"indexof([100,1000,10000,100000,1000000,10000000],datum.value)>=0","value":-6},"value":-3}}},
    "y":{"field":"g","type":"quantitative","scale":{"domain":[0,20]},"axis":{"orient":"right","values":[0,2.5,5,7.5,10,12.5,15,17.5,20],"labelExpr":"datum.value%5==0?datum.label:''","title":"G/F (nS/Hz)","titleAngle":270,"titleBaseline":"top","tickSize":{"condition":{"test":"datum.value%5==0","value":-6},"value":-3}}},
    "detail":{"field":"t","type":"nominal"}}},
  {"data":{"name":"lab"},"transform":[{"filter":"datum.p=='d'&&datum.k=='id'"}],
   "mark":{"type":"text","align":"left","baseline":"alphabetic","fontSize":29},
   "encoding":{
    "x":{"field":"f","type":"quantitative","scale":{"type":"log","domain":[100,10000000]},"axis":{"orient":"top","values":[100,200,300,400,500,600,700,800,900,1000,2000,3000,4000,5000,6000,7000,8000,9000,10000,20000,30000,40000,50000,60000,70000,80000,90000,100000,200000,300000,400000,500000,600000,700000,800000,900000,1000000,2000000,3000000,4000000,5000000,6000000,7000000,8000000,9000000,10000000],"labels":false,"title":null,"tickSize":{"condition":{"test":"indexof([100,1000,10000,100000,1000000,10000000],datum.value)>=0","value":-6},"value":-3}}},
    "y":{"field":"g","type":"quantitative","scale":{"domain":[0,20]},"axis":{"orient":"left","values":[0,2.5,5,7.5,10,12.5,15,17.5,20],"labels":false,"title":null,"tickSize":{"condition":{"test":"datum.value%5==0","value":-6},"value":-3}}},
    "text":{"field":"s"}}},
  {"data":{"name":"lab"},"transform":[{"filter":"datum.p=='d'&&datum.k=='t'"}],
   "mark":{"type":"text","align":"center","baseline":"alphabetic","fontSize":19,"fontWeight":"bold"},
   "encoding":{"x":{"field":"f","type":"quantitative","axis":null},"y":{"field":"g","type":"quantitative","axis":null},"text":{"field":"s"}}},
  {"data":{"name":"arr"},"transform":[{"filter":"datum.p=='d'"}],
   "mark":{"type":"rule","strokeWidth":1.2,"color":"black"},
   "encoding":{"x":{"field":"f","type":"quantitative","axis":null},"y":{"field":"g","type":"quantitative","axis":null},"x2":{"field":"f2"},"y2":{"field":"g2"}}},
  {"data":{"name":"arr"},"transform":[{"filter":"datum.p=='d'"}],
   "mark":{"type":"point","shape":"M0,0L-0.8,2.2L0.8,2.2Z","filled":true,"color":"black","opacity":1,"size":64,"angle":262.6,"strokeWidth":0},
   "encoding":{"x":{"field":"f2","type":"quantitative","axis":null},"y":{"field":"g2","type":"quantitative","axis":null}}}
 ],
 "resolve":{"axis":{"x":"independent","y":"independent"}}}
]
}
